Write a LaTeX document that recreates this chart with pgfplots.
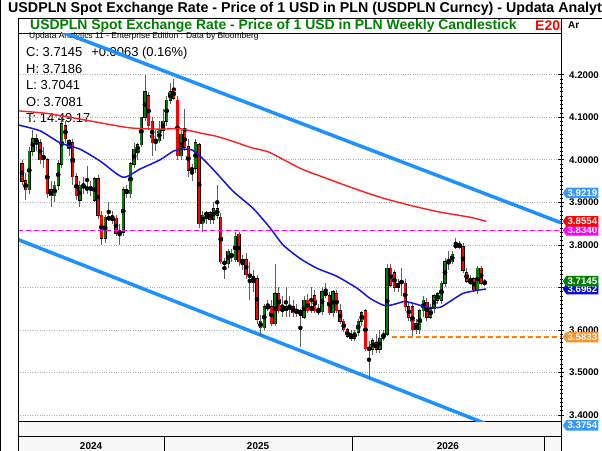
\documentclass[border=0pt]{standalone}
\usepackage{fontspec}
\setmainfont{Liberation Sans}
\usepackage{pgfplots}
\usepackage{pgfplotstable}
\pgfplotsset{compat=1.18}
\usetikzlibrary{shapes.symbols}

\definecolor{upgreen}{RGB}{0,128,0}
\definecolor{dnred}{RGB}{255,0,0}
\definecolor{wick}{RGB}{95,95,95}
\definecolor{chan}{RGB}{30,144,255}
\definecolor{maBlue}{RGB}{20,20,230}
\definecolor{maRed}{RGB}{255,30,30}
\definecolor{mag}{RGB}{255,0,255}
\definecolor{orng}{RGB}{255,128,0}
\definecolor{tagorng}{RGB}{255,145,40}
\definecolor{tagblue}{RGB}{51,153,255}
\definecolor{tagdblue}{RGB}{10,10,220}

% weekly candles: week index, open, high, low, close
\pgfplotstableread{
i o h l c
0 3.990 4.000 3.940 3.950
1 3.950 3.970 3.905 3.930
2 3.930 4.030 3.920 4.020
3 4.020 4.070 4.010 4.050
4 4.050 4.060 4.020 4.040
5 4.040 4.050 3.990 4.000
6 4.000 4.030 3.980 4.010
7 4.000 4.005 3.910 3.920
8 3.930 3.950 3.890 3.915
9 3.915 3.950 3.900 3.940
10 3.940 4.000 3.930 3.990
11 3.990 4.100 3.980 4.085
12 4.080 4.090 4.040 4.050
13 4.030 4.050 4.010 4.045
14 4.040 4.050 3.940 3.960
15 3.960 3.970 3.905 3.915
16 3.905 3.950 3.890 3.940
17 3.940 3.960 3.920 3.935
18 3.935 3.985 3.920 3.930
19 3.930 3.950 3.915 3.935
20 3.905 3.960 3.900 3.955
21 3.955 3.965 3.860 3.870
22 3.870 3.880 3.800 3.815
23 3.815 3.870 3.805 3.865
24 3.865 3.900 3.855 3.860
25 3.860 3.880 3.850 3.862
26 3.862 3.870 3.820 3.827
27 3.827 3.850 3.800 3.832
28 3.830 3.935 3.820 3.930
29 3.930 3.940 3.910 3.920
30 3.920 3.995 3.910 3.990
31 3.990 4.040 3.980 4.025
32 4.020 4.040 4.000 4.035
33 4.035 4.100 4.030 4.100
34 4.100 4.200 4.090 4.160
35 4.150 4.160 4.070 4.080
36 4.090 4.100 4.010 4.040
37 4.040 4.070 4.020 4.045
38 4.045 4.090 4.040 4.070
39 4.070 4.120 4.050 4.090
40 4.090 4.150 4.080 4.140
41 4.140 4.180 4.130 4.160
42 4.165 4.190 4.140 4.145
43 4.140 4.150 4.000 4.010
44 4.010 4.070 4.000 4.060
45 4.065 4.120 4.020 4.030
46 4.030 4.050 3.960 3.975
47 3.975 3.990 3.950 3.980
48 3.980 4.050 3.970 4.040
49 4.035 4.040 3.840 3.850
50 3.850 3.880 3.830 3.870
51 3.870 3.880 3.850 3.875
52 3.875 3.880 3.850 3.860
53 3.860 3.900 3.850 3.885
54 3.870 3.940 3.860 3.885
55 3.865 3.875 3.755 3.760
56 3.760 3.770 3.720 3.755
57 3.756 3.790 3.745 3.785
58 3.780 3.790 3.760 3.770
59 3.765 3.830 3.760 3.820
60 3.825 3.830 3.750 3.760
61 3.755 3.775 3.740 3.765
62 3.765 3.780 3.720 3.730
63 3.730 3.760 3.670 3.725
64 3.725 3.740 3.690 3.715
65 3.720 3.730 3.615 3.625
66 3.620 3.635 3.585 3.605
67 3.605 3.660 3.600 3.655
68 3.655 3.670 3.645 3.652
69 3.655 3.670 3.610 3.615
70 3.615 3.755 3.610 3.685
71 3.685 3.700 3.640 3.645
72 3.645 3.680 3.630 3.650
73 3.645 3.700 3.630 3.655
74 3.650 3.680 3.630 3.655
75 3.655 3.670 3.630 3.640
76 3.640 3.660 3.630 3.645
77 3.645 3.650 3.560 3.635
78 3.630 3.680 3.625 3.670
79 3.670 3.685 3.640 3.645
80 3.645 3.700 3.640 3.655
81 3.680 3.695 3.640 3.645
82 3.645 3.660 3.635 3.643
83 3.643 3.700 3.635 3.690
84 3.690 3.710 3.675 3.680
85 3.680 3.690 3.635 3.640
86 3.640 3.695 3.630 3.690
87 3.685 3.695 3.640 3.645
88 3.645 3.660 3.615 3.620
89 3.620 3.625 3.595 3.600
90 3.600 3.605 3.580 3.585
91 3.590 3.600 3.575 3.580
92 3.580 3.600 3.575 3.595
93 3.595 3.625 3.585 3.620
94 3.620 3.645 3.610 3.640
95 3.645 3.650 3.550 3.556
96 3.556 3.575 3.485 3.555
97 3.555 3.580 3.540 3.575
98 3.570 3.590 3.545 3.555
99 3.555 3.600 3.545 3.580
100 3.580 3.600 3.575 3.590
101 3.590 3.755 3.585 3.745
102 3.745 3.755 3.700 3.705
103 3.735 3.740 3.690 3.700
104 3.700 3.720 3.690 3.710
105 3.715 3.745 3.680 3.710
106 3.710 3.720 3.645 3.655
107 3.655 3.665 3.620 3.630
108 3.655 3.660 3.585 3.600
109 3.600 3.625 3.590 3.615
110 3.600 3.650 3.590 3.645
111 3.645 3.680 3.630 3.670
112 3.665 3.675 3.620 3.630
113 3.630 3.660 3.625 3.650
114 3.650 3.685 3.640 3.680
115 3.670 3.690 3.660 3.685
116 3.670 3.715 3.660 3.710
117 3.710 3.770 3.700 3.760
118 3.760 3.785 3.740 3.758
119 3.760 3.785 3.755 3.778
120 3.800 3.815 3.790 3.795
121 3.800 3.810 3.790 3.795
122 3.795 3.805 3.735 3.740
123 3.735 3.745 3.710 3.715
124 3.715 3.730 3.705 3.712
125 3.720 3.725 3.690 3.695
126 3.695 3.750 3.685 3.745
127 3.745 3.750 3.705 3.710
128 3.7081 3.7186 3.7041 3.7145
}\candles

\tikzset{pricetag/.style={signal, signal to=west, signal pointer angle=110,
  fill=#1, text=white, font=\bfseries\fontsize{9.7}{10}\selectfont,
  inner xsep=1.2bp, inner ysep=0.6bp, minimum height=10.5bp, anchor=west}}

\begin{document}
\begin{tikzpicture}
\useasboundingbox (0,0) rectangle (602bp,451bp);
\clip (0,0) rectangle (602bp,451bp);
\begin{scope}[x=1bp,y=1bp]
\fill[white] (0,0) rectangle (602,451);
\fill[gray!6] (18,0) rectangle (561,29.3);

% titles
\node[anchor=west, inner sep=0, font=\bfseries\fontsize{14.3}{15}\selectfont] at (8,442)
  {USDPLN Spot Exchange Rate - Price of 1 USD in PLN (USDPLN Curncy) - Updata Analytics};
\begin{scope}
\clip (18,418) rectangle (561,432.5);
\node[anchor=west, inner sep=0, text=upgreen, font=\bfseries\fontsize{14}{15}\selectfont] at (30,425.5)
  {USDPLN Spot Exchange Rate - Price of 1 USD in PLN Weekly Candlestick};
\node[anchor=west, inner sep=0, text=dnred, font=\bfseries\fontsize{14}{15}\selectfont] at (535,425.5) {E2026};
\end{scope}
\node[anchor=west, inner sep=0, font=\bfseries\fontsize{10}{11}\selectfont] at (568,425.5) {Ar};

% info text
\node[anchor=west, inner sep=0, font=\fontsize{8.5}{9}\selectfont] at (29,414.3)
  {Updata Analytics 11 - Enterprise Edition : Data by Bloomberg};
\begin{scope}[every node/.style={anchor=west, inner sep=0, font=\fontsize{13}{14}\selectfont}]
\node at (26,398.3) {C: 3.7145\hspace{9bp}+0.0063 (0.16\%)};
\node at (26,381.7) {H: 3.7186};
\node at (26,366) {L: 3.7041};
\node at (26,349.3) {O: 3.7081};
\node at (26,332.7) {T: 14:49.17};
\end{scope}
\end{scope}

\begin{axis}[
  at={(18bp,29.3bp)}, anchor=south west,
  scale only axis, width=543bp, height=388.7bp,
  xmin=-1.11, xmax=149.1, ymin=3.3843, ymax=4.298,
  clip mode=individual,
  axis line style={black, line width=0.8bp},
  ytick={3.4,3.5,3.6,3.7,3.8,3.9,4.0,4.1,4.2},
  minor y tick num=9,
  ytick pos=right, yticklabel pos=right,
  tick align=center, major tick length=6bp, minor tick length=3bp,
  ytick style={black, line width=0.6bp},
  ymajorgrids, major grid style={gray!60, dotted, line width=0.7bp},
  yticklabel style={font=\bfseries\fontsize{9.7}{10}\selectfont, anchor=west, inner sep=0pt, xshift=5bp},
  /pgf/number format/fixed, /pgf/number format/fixed zerofill,
  /pgf/number format/precision=4, /pgf/number format/assume math mode=true,
  xtick={19.1,65.3,117.8}, xticklabels={2024,2025,2026},
  xtick style={draw=none}, major x tick style={draw=none},
  xticklabel style={font=\bfseries\fontsize{10}{11}\selectfont, anchor=center, yshift=-21bp},
]
% trend channel
\addplot[chan, line width=3.5bp, forget plot] coordinates {(-1.11,4.340) (149.1,3.852)};
\addplot[chan, line width=3.5bp, forget plot] coordinates {(-1.11,3.8125) (149.1,3.310)};

% wicks
\addplot[only marks, mark=none, forget plot,
  error bars/.cd, y dir=both, y explicit, error mark=none,
  error bar style={line width=0.8bp, color=wick}]
  table[x=i, y expr={(\thisrow{h}+\thisrow{l})/2}, y error expr={(\thisrow{h}-\thisrow{l})/2}] {\candles};
% body outlines
\addplot[only marks, mark=none, forget plot,
  error bars/.cd, y dir=both, y explicit, error mark=none,
  error bar style={line width=3.3bp, color=black}]
  table[x=i, y expr={(\thisrow{o}+\thisrow{c})/2}, y error expr={abs(\thisrow{c}-\thisrow{o})/2+0.0013}] {\candles};
% up bodies
\addplot[only marks, mark=none, forget plot, restrict y to domain=3:5,
  error bars/.cd, y dir=both, y explicit, error mark=none,
  error bar style={line width=2.2bp, color=upgreen}]
  table[x=i, y expr={(\thisrow{c}>=\thisrow{o}) ? (\thisrow{o}+\thisrow{c})/2 : 9}, y error expr={abs(\thisrow{c}-\thisrow{o})/2}] {\candles};
% down bodies
\addplot[only marks, mark=none, forget plot, restrict y to domain=3:5,
  error bars/.cd, y dir=both, y explicit, error mark=none,
  error bar style={line width=2.2bp, color=dnred}]
  table[x=i, y expr={(\thisrow{c}<\thisrow{o}) ? (\thisrow{o}+\thisrow{c})/2 : 9}, y error expr={abs(\thisrow{c}-\thisrow{o})/2}] {\candles};

% moving averages
\addplot[maRed, line width=1.4bp, smooth, tension=0.4] coordinates {
(-1.1,4.115) (7.7,4.108) (21.6,4.087) (29.9,4.075) (38.2,4.072) (43.7,4.073) (49.2,4.063)
(53.4,4.056) (58.1,4.044) (63.6,4.028) (68.3,4.018) (76.9,3.980) (82.4,3.962) (90.7,3.936)
(99.0,3.912) (107.3,3.893) (115.6,3.877) (123.9,3.865) (128.4,3.8554)};
\addplot[maBlue, line width=1.5bp, smooth, tension=0.4] coordinates {
(-1.1,4.082) (5.0,4.068) (10.5,4.040) (16.0,4.025) (21.6,3.997) (27.9,3.959) (32.6,3.978)
(38.2,4.000) (41.8,4.020) (44.3,4.025) (47.0,4.023) (49.2,4.009) (52.8,3.978) (58.4,3.926)
(63.9,3.886) (68.6,3.840) (72.2,3.800) (76.9,3.768) (81.6,3.745) (87.1,3.726) (92.7,3.698)
(96.3,3.674) (100.4,3.657) (103.7,3.662) (105.9,3.667) (109.3,3.660) (112.0,3.653)
(115.6,3.653) (118.4,3.667) (122.0,3.686) (125.9,3.693) (128.4,3.6962)};

% horizontal levels
\addplot[mag, line width=1.3bp, dash pattern=on 5bp off 3bp] coordinates {(-1.11,3.834) (149.1,3.834)};
\addplot[orng, line width=1.3bp, dash pattern=on 5bp off 3bp] coordinates {(102.3,3.5833) (149.1,3.5833)};

\coordinate (tA) at (axis cs:149.1,3.9219);
\coordinate (tB) at (axis cs:149.1,3.8554);
\coordinate (tC) at (axis cs:149.1,3.8340);
\coordinate (tD) at (axis cs:149.1,3.7145);
\coordinate (tE) at (axis cs:149.1,3.6962);
\coordinate (tF) at (axis cs:149.1,3.5833);
\coordinate (tG) at (axis cs:149.1,3.3754);
\end{axis}

\begin{scope}[x=1bp,y=1bp]
% frame
\draw[line width=0.8bp] (0.4,0) -- (0.4,451);
\draw[line width=0.8bp] (18,432.5) -- (602,432.5);
\draw[line width=0.8bp] (18,0) -- (18,432.5);
\draw[line width=0.8bp] (561,0) -- (561,432.5);
\draw[line width=0.8bp] (18,14.3) -- (561,14.3);
\foreach \xx in {164,352,544} \draw[line width=0.8bp] (\xx,0) -- (\xx,14.3);
\end{scope}

% price tags
\node[pricetag=tagblue, xshift=1.5bp] at (tA) {3.9219};
\node[pricetag=mag, xshift=1.5bp] at (tC) {3.8340};
\node[pricetag=dnred, xshift=1.5bp] at (tB) {3.8554};
\node[pricetag=tagdblue, xshift=1.5bp] at (tE) {3.6962};
\node[pricetag=upgreen, xshift=1.5bp] at (tD) {3.7145};
\node[pricetag=tagorng, xshift=1.5bp] at (tF) {3.5833};
\node[pricetag=tagblue, xshift=1.5bp] at (tG) {3.3754};
\end{tikzpicture}
\end{document}
